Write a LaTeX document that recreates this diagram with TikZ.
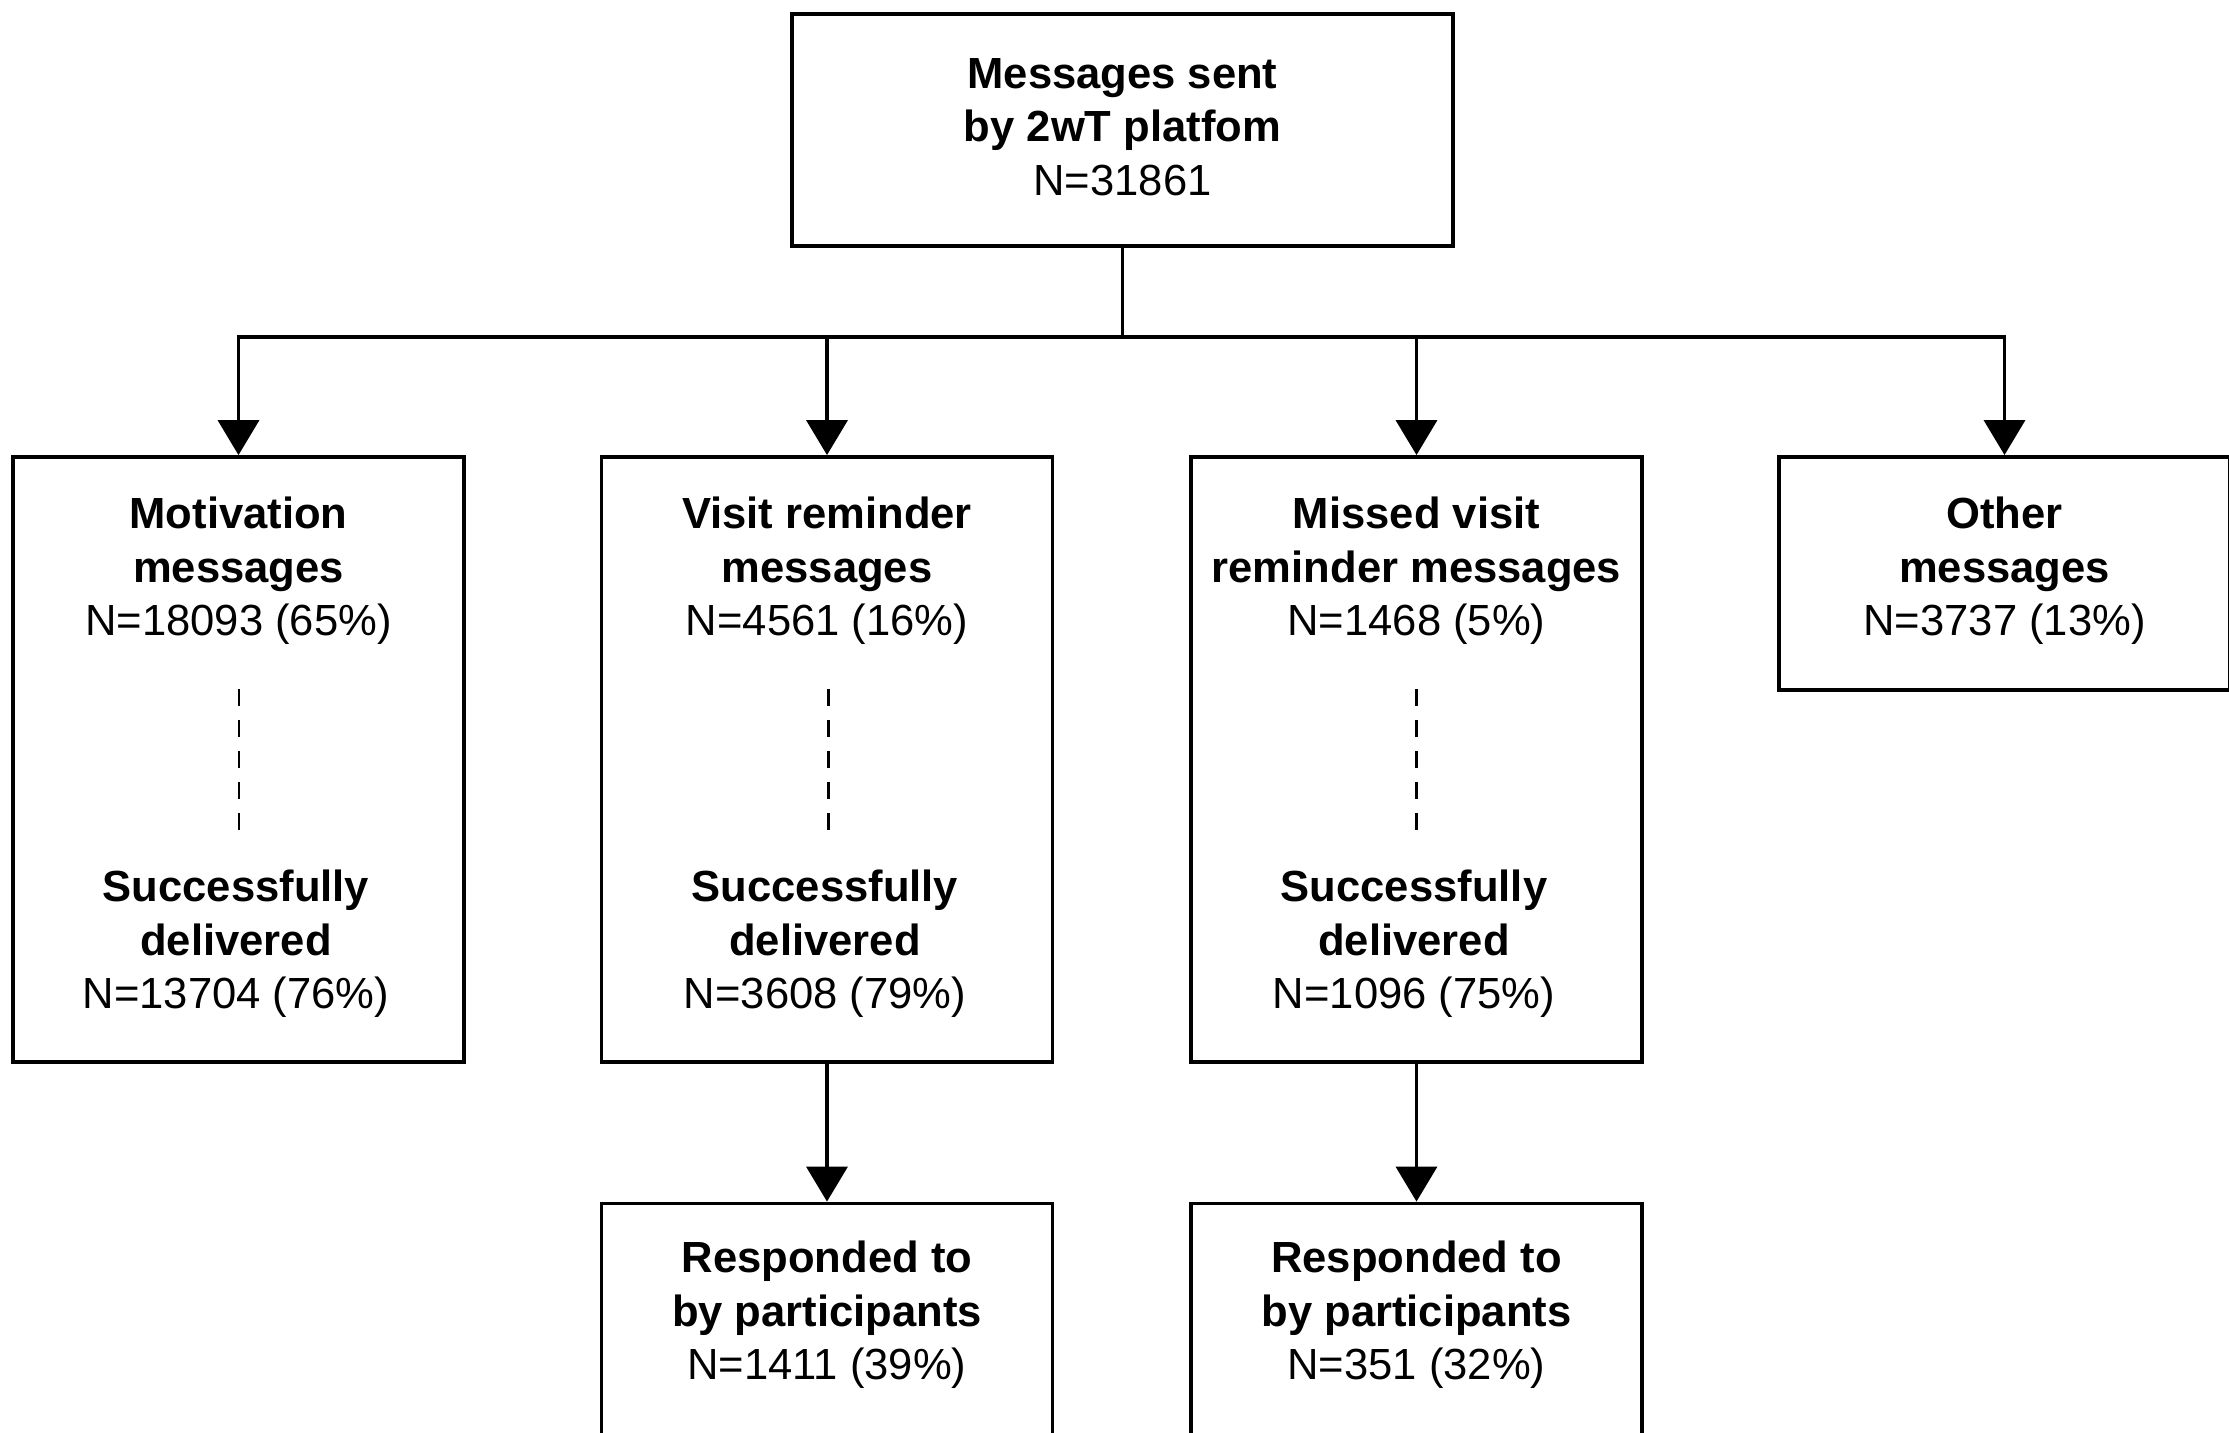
\documentclass[tikz,border=0pt]{standalone}
\usepackage{fontspec}
\setmainfont{Liberation Sans}
\usetikzlibrary{arrows.meta}
\begin{document}
\begin{tikzpicture}[x=0.1mm,y=-0.1mm,
  box/.style={draw,line width=1.1pt,inner sep=0pt,minimum width=45.1mm},
  txt/.style={align=center,font=\fontsize{12.4}{15.2}\selectfont,inner sep=0pt},
  arr/.style={line width=1.05pt,-{Triangle[width=4.1mm,length=3.5mm]}},
  conn/.style={line width=1.05pt},
  dashln/.style={line width=0.85pt,dash pattern=on 1.7mm off 1.4mm}]
\useasboundingbox[fill=white] (0,0) rectangle (2229,1432);
% boxes
\node[box,minimum width=66.1mm,minimum height=23.2mm] (top) at (1122.5,130) {};
\node[box,minimum height=60.5mm] (m1) at (238.5,759.5) {};
\node[box,minimum height=60.5mm] (m2) at (827,759.5) {};
\node[box,minimum height=60.5mm] (m3) at (1416.5,759.5) {};
\node[box,minimum height=23.3mm] (m4) at (2004.5,573.5) {};
\node[box,minimum height=23.3mm] (r2) at (827,1320) {};
\node[box,minimum height=23.3mm] (r3) at (1416.5,1320) {};
% texts
\node[txt] (ttop) at (1122.5,127) {\textbf{Messages sent}\\\textbf{by 2wT platfom}\\N=31861};
\node[txt] (u1) at (238.5,571) {\textbf{Motivation}\\\textbf{messages}\\N=18093 (65\%)};
\node[txt] (l1) at (236,944) {\textbf{Successfully}\\\textbf{delivered}\\N=13704 (76\%)};
\node[txt] (u2) at (827,571) {\textbf{Visit reminder}\\\textbf{messages}\\N=4561 (16\%)};
\node[txt] (l2) at (825,944) {\textbf{Successfully}\\\textbf{delivered}\\N=3608 (79\%)};
\node[txt] (u3) at (1416.5,571) {\textbf{Missed visit}\\\textbf{reminder messages}\\N=1468 (5\%)};
\node[txt] (l3) at (1414,944) {\textbf{Successfully}\\\textbf{delivered}\\N=1096 (75\%)};
\node[txt] (u4) at (2004.5,571) {\textbf{Other}\\\textbf{messages}\\N=3737 (13\%)};
\node[txt] (b2) at (827,1315) {\textbf{Responded to}\\\textbf{by participants}\\N=1411 (39\%)};
\node[txt] (b3) at (1416.5,1315) {\textbf{Responded to}\\\textbf{by participants}\\N=351 (32\%)};
% dashed links
\coordinate (d1a) at (239,689); \coordinate (d1b) at (239,832);
\coordinate (d2a) at (828,689); \coordinate (d2b) at (828,832);
\coordinate (d3a) at (1416,689); \coordinate (d3b) at (1416,832);
\draw[dashln] (d1a) -- (d1b);
\draw[dashln] (d2a) -- (d2b);
\draw[dashln] (d3a) -- (d3b);
% connectors
\coordinate (hub) at (1122.5,337);
\draw[conn] (top.south) -- (hub);
\draw[arr] (hub) -| (m1.north);
\draw[arr] (hub) -| (m2.north);
\draw[arr] (hub) -| (m3.north);
\draw[arr] (hub) -| (m4.north);
\draw[arr] (m2.south) -- (r2.north);
\draw[arr] (m3.south) -- (r3.north);
\end{tikzpicture}
\end{document}
